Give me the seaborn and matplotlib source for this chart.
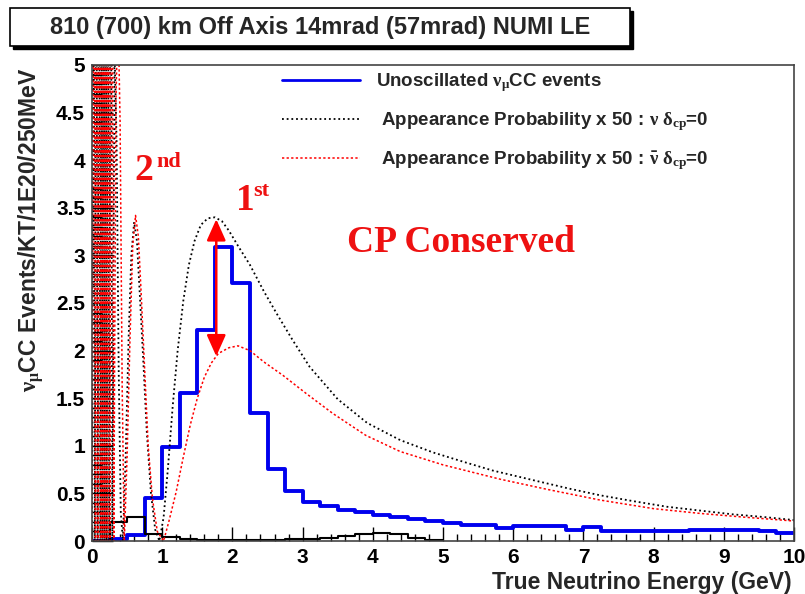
import numpy as np
import pandas as pd
import matplotlib.pyplot as plt
import seaborn as sns
from matplotlib.lines import Line2D
from matplotlib.patches import Rectangle

sns.set_theme(style="white")
plt.rcParams['font.family'] = ['Liberation Sans', 'DejaVu Sans']
plt.rcParams['font.weight'] = 'bold'
plt.rcParams['mathtext.fontset'] = 'custom'
plt.rcParams['mathtext.rm'] = 'Liberation Sans:bold'
plt.rcParams['mathtext.bf'] = 'Liberation Sans:bold'
plt.rcParams['mathtext.it'] = 'Liberation Serif'

# 250 MeV bins
bin_edges = [i * 0.25 for i in range(41)]
unosc_events = [0.0, 0.02, 0.06, 0.45, 0.99, 1.55, 2.22, 3.09, 2.71, 1.34,
                0.76, 0.53, 0.41, 0.37, 0.33, 0.30, 0.27, 0.25, 0.23, 0.21,
                0.19, 0.17, 0.17, 0.14, 0.16, 0.16, 0.16, 0.12, 0.15, 0.11,
                0.11, 0.11, 0.11, 0.10, 0.12, 0.12, 0.12, 0.12, 0.10, 0.08]
low_edges = [i * 0.25 for i in range(21)]
low_events = [0.0, 0.20, 0.25, 0.07, 0.04, 0.02, 0.01, 0.01, 0.01, 0.01,
              0.01, 0.02, 0.02, 0.03, 0.05, 0.07, 0.08, 0.07, 0.03, 0.01]

# appearance probability x 50, neutrino
nu_energy = [0.00, 0.02, 0.04, 0.06, 0.08, 0.10, 0.12, 0.135, 0.15, 0.165,
             0.18, 0.195, 0.21, 0.225, 0.245, 0.265, 0.29, 0.32, 0.35, 0.38,
             0.41, 0.44, 0.48, 0.52, 0.56, 0.60, 0.64, 0.68, 0.73, 0.78,
             0.84, 0.90, 0.96, 1.02, 1.08, 1.15, 1.22, 1.30, 1.38, 1.46,
             1.55, 1.65, 1.75, 1.85, 1.95, 2.08, 2.25, 2.45, 2.63, 2.85,
             3.10, 3.50, 3.92, 4.39, 4.86, 5.30, 5.71, 6.28, 6.80, 7.24,
             7.70, 8.19, 8.66, 9.13, 9.60, 10.0]
nu_prob = [0, 8, 0, 8, 0, 8, 0, 8, 0, 8,
           0, 8, 0, 8, 0, 8, 0, 5.2, 4.2, 1.8,
           0.3, 0.0, 0.9, 2.1, 3.0, 3.35, 3.15, 2.6, 1.9, 1.15,
           0.5, 0.12, 0.0, 0.25, 0.75, 1.42, 2.0, 2.52, 2.9, 3.15,
           3.32, 3.39, 3.40, 3.36, 3.26, 3.1, 2.9, 2.62, 2.39, 2.12,
           1.83, 1.49, 1.24, 1.06, 0.93, 0.83, 0.74, 0.64, 0.55, 0.48,
           0.42, 0.36, 0.32, 0.28, 0.25, 0.22]

# appearance probability x 50, antineutrino
nubar_energy = [0.00, 0.03, 0.05, 0.07, 0.09, 0.11, 0.13, 0.145, 0.16, 0.175,
                0.19, 0.205, 0.22, 0.235, 0.255, 0.28, 0.31, 0.34, 0.37, 0.40,
                0.43, 0.46, 0.50, 0.54, 0.58, 0.62, 0.66, 0.70, 0.75, 0.80,
                0.86, 0.93, 1.02, 1.10, 1.20, 1.30, 1.40, 1.50, 1.60, 1.70,
                1.80, 1.95, 2.08, 2.25, 2.45, 2.72, 3.05, 3.43, 3.90, 4.39,
                5.00, 5.81, 6.50, 7.24, 8.00, 8.66, 9.30, 10.0]
nubar_prob = [0, 9, 0, 9, 0, 9, 0, 9, 0, 9,
              0, 9, 0, 9, 0, 9, 0, 4.6, 5.6, 4.4,
              1.6, 0.0, 0.9, 2.1, 3.1, 3.42, 3.2, 2.6, 1.8, 1.0,
              0.45, 0.1, 0.0, 0.22, 0.52, 0.88, 1.22, 1.50, 1.72, 1.87,
              1.97, 2.03, 2.05, 2.0, 1.88, 1.74, 1.55, 1.34, 1.11, 0.94,
              0.80, 0.65, 0.54, 0.43, 0.34, 0.29, 0.25, 0.21]

RED = '#ee1111'
BLUE = '#0000ee'
serif = ['Liberation Serif', 'DejaVu Serif']

fig = plt.figure(figsize=(8.05, 5.94), dpi=100)
ax = fig.add_axes([0.1143, 0.0892, 0.8720, 0.8014])

unosc_df = pd.DataFrame({'energy': [(a + b) / 2 for a, b in zip(bin_edges[:-1], bin_edges[1:])],
                         'events': unosc_events})
low_df = pd.DataFrame({'energy': [(a + b) / 2 for a, b in zip(low_edges[:-1], low_edges[1:])],
                       'events': low_events})
sns.histplot(data=unosc_df, x='energy', weights='events', bins=bin_edges,
             element='step', fill=False, color=BLUE, linewidth=2.8, ax=ax)
sns.histplot(data=low_df, x='energy', weights='events', bins=low_edges,
             element='step', fill=False, color='black', linewidth=1.5, ax=ax)

sns.lineplot(x=nu_energy, y=nu_prob, sort=False, estimator=None, color='black',
             linewidth=1.3, linestyle=(0, (1, 1.6)), ax=ax)
sns.lineplot(x=nubar_energy, y=nubar_prob, sort=False, estimator=None, color='red',
             linewidth=1.1, linestyle=(0, (1.5, 1.5)), ax=ax)

ax.set_xlim(0, 10)
ax.set_ylim(0, 5)
ax.set_xticks(np.arange(0, 11, 1))
ax.set_xticks(np.arange(0, 10.01, 0.2), minor=True)
ax.set_yticks(np.arange(0, 5.01, 0.5))
ax.set_yticks(np.arange(0, 5.01, 0.1), minor=True)
ax.set_xticklabels([str(v) for v in range(11)])
ax.set_yticklabels(['0', '0.5', '1', '1.5', '2', '2.5', '3', '3.5', '4', '4.5', '5'])
ax.tick_params(axis='both', which='both', direction='in', colors='black',
               labelsize=15, top=False, right=False, bottom=True, left=True, width=1)
ax.tick_params(axis='y', which='major', length=15, pad=5)
ax.tick_params(axis='y', which='minor', length=7.5)
ax.tick_params(axis='x', which='major', length=10, pad=5)
ax.tick_params(axis='x', which='minor', length=5)
for lab in ax.get_xticklabels() + ax.get_yticklabels():
    lab.set_fontweight('bold')
for sp in ax.spines.values():
    sp.set_color('#444444')
    sp.set_linewidth(1.2)

ax.set_ylabel(r'$\nu_{\mu}$CC Events/KT/1E20/250MeV', loc='top', fontsize=16.5,
              fontweight='bold')
ax.yaxis.set_label_coords(-0.066, 0.995)
ax.set_xlabel('True Neutrino Energy (GeV)', loc='right', fontsize=16.5, fontweight='bold')
ax.xaxis.set_label_coords(0.997, -0.062)

handles = [Line2D([], [], color=BLUE, linewidth=2),
           Line2D([], [], color='black', linewidth=1.3, linestyle=(0, (1, 1.6))),
           Line2D([], [], color='red', linewidth=1.1, linestyle=(0, (1.5, 1.5)))]
labels = [r'Unoscillated $\nu_{\mu}$CC events',
          r' Appearance Probability x 50 : $\nu$ $\delta_{cp}$=0',
          r' Appearance Probability x 50 : $\bar{\nu}$ $\delta_{cp}$=0']
leg = ax.legend(handles, labels, loc='upper left', bbox_to_anchor=(0.265, 0.995),
                frameon=False, fontsize=13.5, handlelength=4.15, handletextpad=0.85,
                labelspacing=0.85, borderpad=0.2, borderaxespad=0)
for t in leg.get_texts():
    t.set_fontweight('bold')

# annotations
ax.text(0.61, 3.79, '2', color=RED, fontsize=27, fontweight='bold', family=serif)
ax.text(0.92, 3.93, 'nd', color=RED, fontsize=16, fontweight='bold', family=serif)
ax.text(2.05, 3.48, '1', color=RED, fontsize=27, fontweight='bold', family=serif)
ax.text(2.3, 3.62, 'st', color=RED, fontsize=16, fontweight='bold', family=serif)
ax.text(3.63, 3.04, 'CP Conserved', color=RED, fontsize=27, fontweight='bold',
        family=serif)
ax.annotate('', xy=(1.77, 3.38), xytext=(1.77, 1.94),
            arrowprops=dict(arrowstyle='<|-|>,head_length=0.65,head_width=0.29',
                            color='red', lw=1.8, mutation_scale=20,
                            shrinkA=0, shrinkB=0))

# title box with shadow
fig.patches.append(Rectangle((10 / 805 + 0.004, 1 - 46 / 594 - 0.005), 620 / 805, 38 / 594,
                             transform=fig.transFigure, facecolor='black',
                             edgecolor='black', zorder=1))
fig.patches.append(Rectangle((10 / 805, 1 - 46 / 594), 620 / 805, 38 / 594,
                             transform=fig.transFigure, facecolor='white',
                             edgecolor='black', linewidth=1.2, zorder=2))
fig.text(0.3975, 0.9545, '810 (700) km Off Axis 14mrad (57mrad) NUMI LE',
         ha='center', va='center', fontsize=17, fontweight='bold', zorder=3)

fig.savefig('out.png', dpi=100)
